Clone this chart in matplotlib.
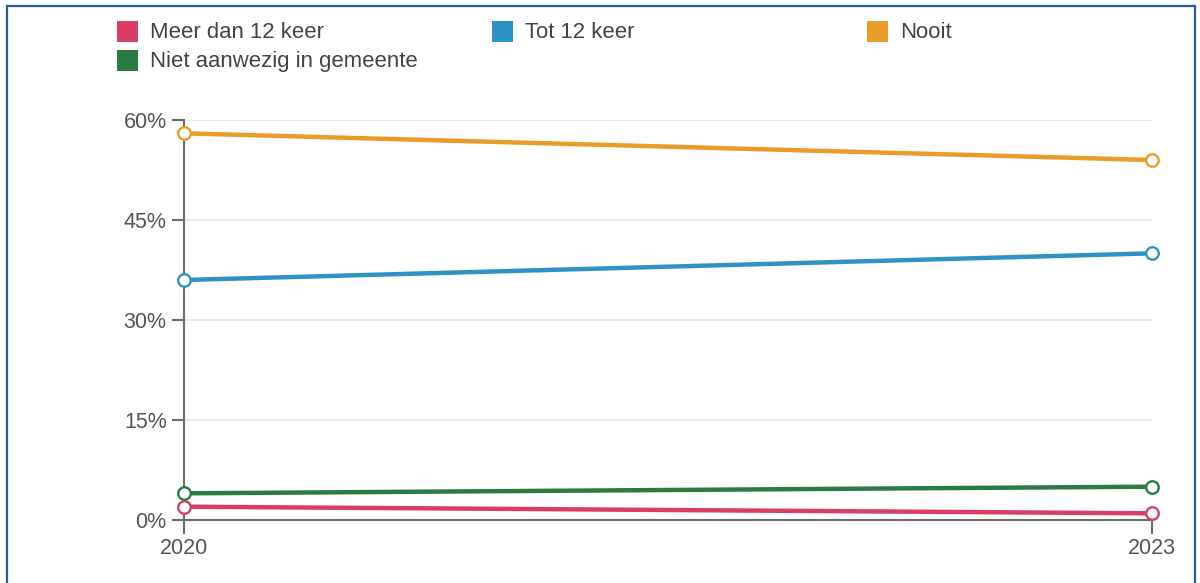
import matplotlib.pyplot as plt
from matplotlib.patches import Rectangle

plt.rcParams["font.family"] = ["Liberation Sans", "DejaVu Sans"]

YEARS = [2020, 2023]
SERIES_NAMES = ["Meer dan 12 keer", "Tot 12 keer", "Nooit", "Niet aanwezig in gemeente"]
SERIES_VALUES = [
    [2, 1],
    [36, 40],
    [58, 54],
    [4, 5],
]
COLORS = ["#d83f63", "#2d93c2", "#e99c26", "#2b7b45"]
Y_TICKS = [0, 15, 30, 45, 60]
Y_TICK_LABELS = ["0%", "15%", "30%", "45%", "60%"]

W, H = 1200, 583
fig = plt.figure(figsize=(W / 100, H / 100), dpi=100)
ax = fig.add_axes([184 / W, (H - 520) / H, (1152 - 184) / W, 400 / H])

# draw order: gridlines first, series on top
for values, color in zip(SERIES_VALUES, COLORS):
    ax.plot(YEARS, values, color=color, lw=3.2, solid_capstyle="butt", zorder=3,
            marker="o", markersize=9, markerfacecolor="white",
            markeredgecolor=color, markeredgewidth=1.7, clip_on=False)

ax.set_xlim(YEARS[0], YEARS[-1])
ax.set_ylim(0, 60)
ax.set_xticks(YEARS)
ax.set_xticklabels([str(y) for y in YEARS])
ax.set_yticks(Y_TICKS)
ax.set_yticklabels(Y_TICK_LABELS)

ax.grid(axis="y", color="#e6e6e6", lw=1.2, zorder=0)
ax.set_axisbelow(True)
for side in ["top", "right"]:
    ax.spines[side].set_visible(False)
for side in ["left", "bottom"]:
    ax.spines[side].set_color("#6b6b6b")
    ax.spines[side].set_linewidth(1.5)
ax.tick_params(axis="y", length=8.5, width=1.5, color="#6b6b6b",
               labelcolor="#555555", labelsize=15.5, pad=4)
ax.tick_params(axis="x", length=10, width=1.5, color="#6b6b6b",
               labelcolor="#555555", labelsize=15.5, pad=3)

# legend drawn by hand to match the layout of the original
legend_pos = [(117, 31), (492, 31), (867, 31), (117, 60)]
for (x, y), name, color in zip(legend_pos, SERIES_NAMES, COLORS):
    fig.patches.append(Rectangle(((x) / W, (H - y - 10.5) / H), 21 / W, 21 / H,
                                 transform=fig.transFigure, facecolor=color,
                                 edgecolor="none"))
    fig.text((x + 33) / W, (H - y - 2) / H, name, fontsize=15.9, color="#444444",
             va="center", ha="left")

# dark blue frame around the chart
fig.patches.append(Rectangle((7 / W, -0.05), (1195 - 7) / W, (H - 6) / H + 0.05,
                             transform=fig.transFigure, facecolor="none",
                             edgecolor="#2f5a96", lw=1.6))

fig.savefig("out.png", dpi=100)
